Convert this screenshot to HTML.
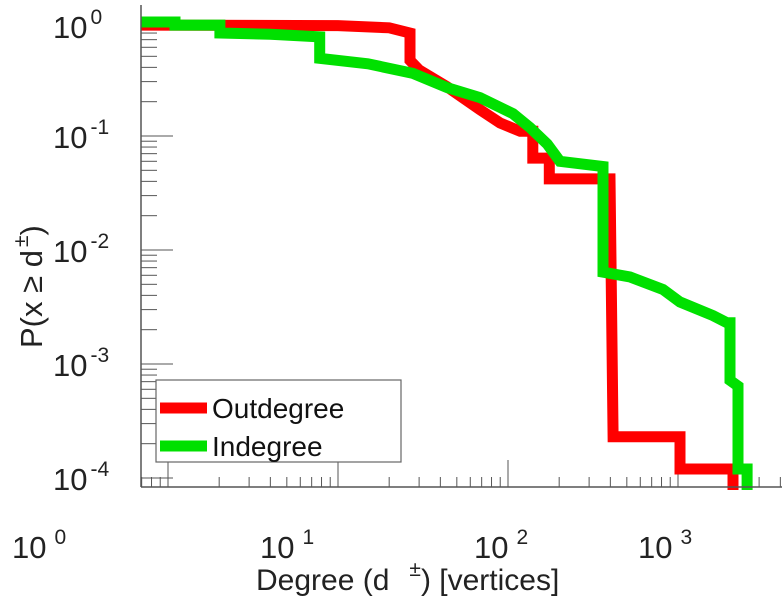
<!DOCTYPE html>
<html><head><meta charset="utf-8"><style>
html,body{margin:0;padding:0;background:#fff;}
svg{display:block;font-family:"Liberation Sans",sans-serif;}
</style></head><body>
<svg id="chart" width="782" height="600" viewBox="0 0 782 600">
<defs><clipPath id="clip"><rect x="141" y="0" width="641" height="490"/></clipPath></defs>
<g id="ticks"></g>
<g id="series" clip-path="url(#clip)"></g>
<line x1="141" y1="5" x2="141" y2="487" stroke="#555" stroke-width="1.5"/>
<line x1="141" y1="487" x2="782" y2="487" stroke="#555" stroke-width="1.5"/>
<g fill="#222" font-size="31">
<text x="53" y="38">10<tspan font-size="21" dy="-14" dx="3">0</tspan></text>
<text x="53" y="148">10<tspan font-size="21" dy="-14" dx="3">-1</tspan></text>
<text x="53" y="262">10<tspan font-size="21" dy="-14" dx="3">-2</tspan></text>
<text x="53" y="376">10<tspan font-size="21" dy="-14" dx="3">-3</tspan></text>
<text x="53" y="490">10<tspan font-size="21" dy="-14" dx="3">-4</tspan></text>
</g>
<g fill="#222" font-size="31">
<text x="12" y="558">10<tspan font-size="21" dy="-14" dx="8">0</tspan></text>
<text x="260" y="558">10<tspan font-size="21" dy="-14" dx="8">1</tspan></text>
<text x="474" y="558">10<tspan font-size="21" dy="-14" dx="8">2</tspan></text>
<text x="638" y="558">10<tspan font-size="21" dy="-14" dx="8">3</tspan></text>
</g>
<text x="256" y="590" fill="#222" font-size="30">Degree (d<tspan font-size="21" dy="-14" dx="20">±</tspan><tspan dy="14">) [vertices]</tspan></text>
<text transform="translate(42,348) rotate(-90)" fill="#222" font-size="31">P(x ≥ d<tspan font-size="21" dy="-14" dx="3">±</tspan><tspan dy="14">)</tspan></text>
<g>
<rect x="156" y="380" width="245" height="82" fill="#fff" stroke="#666" stroke-width="1.2"/>
<line x1="160" y1="408" x2="207" y2="408" stroke="#ff0000" stroke-width="11"/>
<text x="212" y="418" fill="#111" font-size="28">Outdegree</text>
<line x1="160" y1="446" x2="207" y2="446" stroke="#00e000" stroke-width="11"/>
<text x="212" y="456" fill="#111" font-size="28">Indegree</text>
</g>
</svg>
<script>
const outDeg = [0.69,10,20,26.5,26.5,30,43.8,68.4,89.8,118,140,140,175,175,398,415,1027,1027,2107,2107];
const outP = [0.94,0.93,0.89,0.80,0.46,0.38,0.27,0.17,0.13,0.11,0.11,0.064,0.064,0.042,0.042,2.3e-4,2.3e-4,1.2e-4,1.2e-4,7e-5];
const inDeg = [0.69,1.1,1.1,2.02,2.02,4,7.8,7.8,15,27.6,43.8,68.4,107,135,170,202,362,362,522,816,1027,1607,1941,2023,2023,2255,2255,2549,2549];
const inP = [1.0,1.0,0.94,0.94,0.80,0.78,0.74,0.48,0.43,0.354,0.266,0.217,0.157,0.118,0.085,0.060,0.054,0.0064,0.0058,0.0045,0.0035,0.00266,0.0023,0.0023,0.00072,0.00064,0.00012,0.00012,7e-5];
const xDecades = [-1,0,1,2,3];
const yDecades = [0,-1,-2,-3,-4];
const NS='http://www.w3.org/2000/svg';
function xs(d){return 168+170*Math.log10(d);}
function ys(p){return 22-114*Math.log10(p);}
const series=document.getElementById('series');
function draw(ds,ps,color,name){
  const pts=ds.map((d,i)=>xs(d).toFixed(1)+','+ys(ps[i]).toFixed(1)).join(' ');
  const pl=document.createElementNS(NS,'polyline');
  pl.setAttribute('points',pts);
  pl.setAttribute('fill','none');
  pl.setAttribute('stroke',color);
  pl.setAttribute('stroke-width','11');
  pl.setAttribute('stroke-linejoin','miter');
  
  
  series.appendChild(pl);
}
draw(outDeg,outP,'#ff0000','outdegree-line');
draw(inDeg,inP,'#00e000','indegree-line');
const ticks=document.getElementById('ticks');
function tick(x1,y1,x2,y2,name){
  const l=document.createElementNS(NS,'line');
  l.setAttribute('x1',x1);l.setAttribute('y1',y1);l.setAttribute('x2',x2);l.setAttribute('y2',y2);
  l.setAttribute('stroke','#555');l.setAttribute('stroke-width','1');
  
  
  ticks.appendChild(l);
}
xDecades.forEach(e=>{for(let k=1;k<10;k++){const x=xs(k*Math.pow(10,e));if(x<141||x>782)continue;tick(x,487,x,k===1?460:477,k===1?'x-major-tick':'x-minor-tick');}});
yDecades.forEach(e=>{for(let k=1;k<10;k++){const y=ys(k*Math.pow(10,e));if(y<5||y>487)continue;tick(141,y,k===1?173:157,y,k===1?'y-major-tick':'y-minor-tick');}});
</script>
</body></html>
